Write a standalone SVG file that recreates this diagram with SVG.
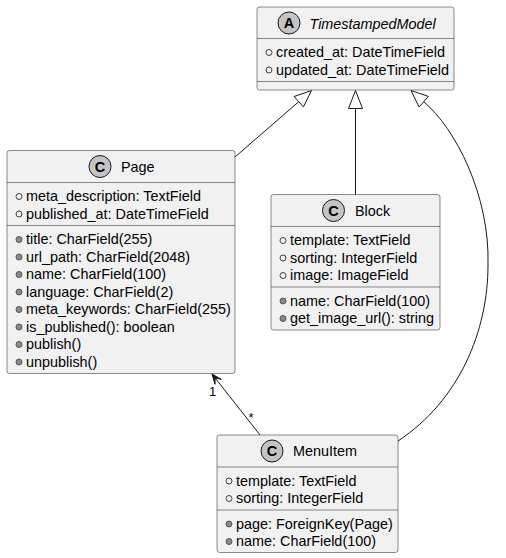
<svg xmlns="http://www.w3.org/2000/svg" width="506" height="558" viewBox="0 0 506 558">
<style>
.box{fill:#F1F1F1;stroke:#181818;stroke-width:0.5}
.dv{stroke:#181818;stroke-width:0.5}
.t{font-family:"Liberation Sans",Arial,sans-serif;font-size:14.4px;fill:#000}
.hc{fill:#C4C4C4;stroke:#181818;stroke-width:1}
.hl{font-family:"Liberation Sans",Arial,sans-serif;font-size:14.5px;font-weight:bold;fill:#000;text-anchor:middle}
.fo{fill:none;stroke:#444;stroke-width:1}
.mf{fill:#8A8A8A;stroke:#555;stroke-width:1}
.e{fill:none;stroke:#181818;stroke-width:1}
.lb{font-family:"Liberation Sans",Arial,sans-serif;font-size:13px;fill:#000;text-anchor:middle}
</style>
<rect width="506" height="558" fill="#FFFFFF"/>
<g id="TimestampedModel">
<rect class="box" x="257" y="7" width="197" height="83" rx="2.5"/>
<circle class="hc" cx="289" cy="23" r="11"/>
<text class="hl" x="289" y="28">A</text>
<text class="t" x="309.5" y="28.5" font-style="italic">TimestampedModel</text>
<line class="dv" x1="257" y1="38.5" x2="454" y2="38.5"/>
<circle class="fo" cx="269" cy="52.5" r="3"/>
<text class="t" x="276" y="57">created_at: DateTimeField</text>
<circle class="fo" cx="269" cy="70" r="3"/>
<text class="t" x="276" y="74.5">updated_at: DateTimeField</text>
<line class="dv" x1="257" y1="81.5" x2="454" y2="81.5"/>
</g>
<g id="Page">
<rect class="box" x="7" y="150.5" width="228" height="223" rx="2.5"/>
<circle class="hc" cx="100" cy="166.5" r="11"/>
<text class="hl" x="100" y="171.5">C</text>
<text class="t" x="121" y="171.5">Page</text>
<line class="dv" x1="7" y1="182.5" x2="235" y2="182.5"/>
<circle class="fo" cx="19" cy="196.5" r="3"/>
<text class="t" x="26" y="201">meta_description: TextField</text>
<circle class="fo" cx="19" cy="214" r="3"/>
<text class="t" x="26" y="218.5">published_at: DateTimeField</text>
<line class="dv" x1="7" y1="225.5" x2="235" y2="225.5"/>
<circle class="mf" cx="19" cy="239.5" r="3"/>
<text class="t" x="26" y="244">title: CharField(255)</text>
<circle class="mf" cx="19" cy="257" r="3"/>
<text class="t" x="26" y="261.5">url_path: CharField(2048)</text>
<circle class="mf" cx="19" cy="274.5" r="3"/>
<text class="t" x="26" y="279">name: CharField(100)</text>
<circle class="mf" cx="19" cy="292" r="3"/>
<text class="t" x="26" y="296.5">language: CharField(2)</text>
<circle class="mf" cx="19" cy="309.5" r="3"/>
<text class="t" x="26" y="314">meta_keywords: CharField(255)</text>
<circle class="mf" cx="19" cy="327" r="3"/>
<text class="t" x="26" y="331.5">is_published(): boolean</text>
<circle class="mf" cx="19" cy="344.5" r="3"/>
<text class="t" x="26" y="349">publish()</text>
<circle class="mf" cx="19" cy="362" r="3"/>
<text class="t" x="26" y="366.5">unpublish()</text>
</g>
<g id="Block">
<rect class="box" x="271" y="194.5" width="169" height="135.5" rx="2.5"/>
<circle class="hc" cx="333.5" cy="210.5" r="11"/>
<text class="hl" x="333.5" y="215.5">C</text>
<text class="t" x="355" y="215.5">Block</text>
<line class="dv" x1="271" y1="226.5" x2="440" y2="226.5"/>
<circle class="fo" cx="283" cy="240.5" r="3"/>
<text class="t" x="290" y="245">template: TextField</text>
<circle class="fo" cx="283" cy="258" r="3"/>
<text class="t" x="290" y="262.5">sorting: IntegerField</text>
<circle class="fo" cx="283" cy="275.5" r="3"/>
<text class="t" x="290" y="280">image: ImageField</text>
<line class="dv" x1="271" y1="287" x2="440" y2="287"/>
<circle class="mf" cx="283" cy="301" r="3"/>
<text class="t" x="290" y="305.5">name: CharField(100)</text>
<circle class="mf" cx="283" cy="318.5" r="3"/>
<text class="t" x="290" y="323">get_image_url(): string</text>
</g>
<g id="MenuItem">
<rect class="box" x="217" y="435" width="181" height="117.5" rx="2.5"/>
<circle class="hc" cx="272" cy="451" r="11"/>
<text class="hl" x="272" y="456">C</text>
<text class="t" x="293" y="456">MenuItem</text>
<line class="dv" x1="217" y1="467" x2="398" y2="467"/>
<circle class="fo" cx="229" cy="481" r="3"/>
<text class="t" x="236" y="485.5">template: TextField</text>
<circle class="fo" cx="229" cy="498.5" r="3"/>
<text class="t" x="236" y="503">sorting: IntegerField</text>
<line class="dv" x1="217" y1="510" x2="398" y2="510"/>
<circle class="mf" cx="229" cy="524" r="3"/>
<text class="t" x="236" y="528.5">page: ForeignKey(Page)</text>
<circle class="mf" cx="229" cy="541.5" r="3"/>
<text class="t" x="236" y="546">name: CharField(100)</text>
</g>
<g id="connectors">
<path class="e" d="M235,157 L298.75,101.7"/>
<polygon class="e" points="311.5,90.5 294.1,96.5 303.4,106.9"/>
<path class="e" d="M355.5,108.5 L355.5,194.5"/>
<polygon class="e" points="355.5,90.5 348.5,108.5 362.5,108.5"/>
<path class="e" d="M423.75,101.7 C455,128 490,195 488,265 C488,330 460,400 398,441"/>
<polygon class="e" points="411,90.5 419.1,107 428.4,96.4"/>
<path class="e" d="M215.1,377.9 L260,435"/>
<polygon points="212,374 221.3,379.4 215.1,377.9 215,384.3" fill="#181818" stroke="#181818" stroke-width="1"/>
<text class="lb" x="212.5" y="396">1</text>
<text class="lb" x="251" y="422">*</text>
</g>
</svg>
